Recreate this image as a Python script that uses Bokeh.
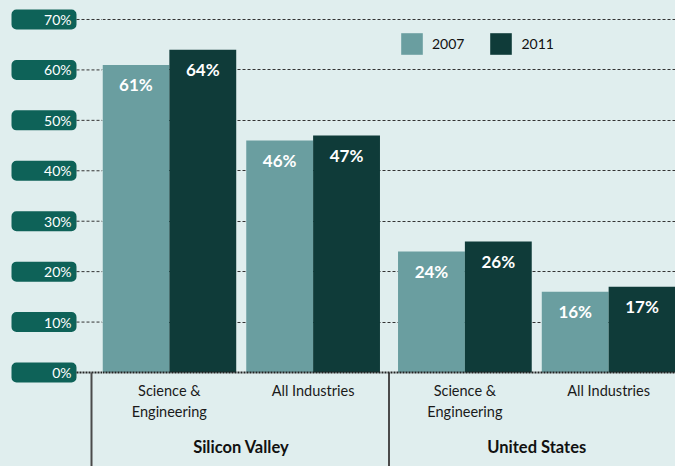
from bokeh.plotting import figure
from bokeh.models import (ColumnDataSource, FactorRange, Range1d, FixedTicker,
                          Span, Legend, LegendItem)
from bokeh.layouts import row
from bokeh.core.properties import value
from bokeh.embed import file_html
from bokeh.resources import INLINE

# ---------------- data ----------------
groups = ["Silicon Valley", "United States"]
industries = ["Science & Engineering", "All Industries"]
industry_labels = ["Science &\nEngineering", "All Industries"]
years = ["2007", "2011"]
share_2007 = [61, 46, 24, 16]   # SV S&E, SV All, US S&E, US All
share_2011 = [64, 47, 26, 17]
tick_values = [0, 10, 20, 30, 40, 50, 60, 70]
tick_labels = ["0%", "10%", "20%", "30%", "40%", "50%", "60%", "70%"]

# ---------------- style ----------------
BG = "#e0eeee"
C2007 = "#6a9ea0"
C2011 = "#0f3b39"
BOX = "#0e6258"
GRID = "#333333"
FONT = "Lato"

H = 466
ZERO_PX = 372          # pixel row of the 0% line (from top of figure)
PX_PER_PCT = 5.043
y_range = Range1d(-(H - ZERO_PX) / PX_PER_PCT, ZERO_PX / PX_PER_PCT)


def px_to_y(px_from_top):
    return (ZERO_PX - px_from_top) / PX_PER_PCT


common = dict(height=H, y_range=y_range, output_backend="svg", toolbar_location=None,
              x_axis_location=None, y_axis_location=None, min_border=0,
              background_fill_color=BG, border_fill_color=BG, outline_line_color=None)

# ---------------- left panel: tick boxes ----------------
LW = 102
left = figure(width=LW, x_range=Range1d(0, LW), **common)
left.grid.visible = False
tick_src = ColumnDataSource(dict(y=tick_values, label=tick_labels))
left.hbar(y="y", left=11, right=76, height=20 / PX_PER_PCT, source=tick_src,
          fill_color=BOX, line_color=None, border_radius=5)
left.text(x=71, y="y", text="label", source=tick_src, text_align="right",
          text_baseline="middle", text_color="white", text_font=value(FONT),
          text_font_size="14px")
left.segment(x0=76, x1=LW, y0=tick_values[1:], y1=tick_values[1:],
             line_color=GRID, line_dash="3 2", line_width=1)
left.segment(x0=[76], x1=[LW], y0=[0], y1=[0], line_color="#222222",
             line_dash="2 1", line_width=2)
left.segment(x0=[91], x1=[91], y0=[0], y1=[y_range.start], line_color="#4a4a4a",
             line_width=2)

# ---------------- right panel: bars ----------------
SUBPAD, GROUPPAD = 0.15, 0.27
pairs = [(g, i) for g in groups for i in industries]
factors = [(g, i, y) for (g, i) in pairs for y in years]
x_range = FactorRange(*factors, factor_padding=0, subgroup_padding=SUBPAD,
                      group_padding=GROUPPAD, range_padding=0)

RW = 573
right = figure(width=RW, x_range=x_range, **common)
right.xgrid.visible = False
right.ygrid.ticker = FixedTicker(ticks=tick_values[1:])
right.ygrid.grid_line_color = GRID
right.ygrid.grid_line_dash = "3 2"
right.ygrid.grid_line_width = 1

renderers = []
for year, vals, color in [("2007", share_2007, C2007), ("2011", share_2011, C2011)]:
    src = ColumnDataSource(dict(x=[(g, i, year) for (g, i) in pairs], top=vals,
                                label=[f"{v}%" for v in vals]))
    r = right.vbar(x="x", top="top", bottom=0, width=1, source=src,
                   fill_color=color, line_color=None)
    right.text(x="x", y="top", text="label", source=src, y_offset=20,
               text_align="center", text_baseline="middle", text_color="white",
               text_font=value(FONT), text_font_style="bold", text_font_size="17px")
    renderers.append((year, r))

right.add_layout(Span(location=0, dimension="width", line_color="#222222",
                      line_dash="2 1", line_width=2))

# separator between the two groups (synthetic coordinate of group boundary)
n_sub = len(industries) * len(years)
sep_x = n_sub + (len(industries) - 1) * SUBPAD + GROUPPAD / 2
right.segment(x0=[sep_x], x1=[sep_x], y0=[0], y1=[y_range.start],
              line_color="#4a4a4a", line_width=2)

ind_src = ColumnDataSource(dict(x=pairs, text=[industry_labels[industries.index(i)]
                                               for (_, i) in pairs]))
right.text(x="x", y=px_to_y(381), text="text", source=ind_src, text_align="center",
           text_baseline="top", text_line_height=1.27, text_color="#1a1a1a",
           text_font=value(FONT), text_font_size="14.5px")

grp_src = ColumnDataSource(dict(x=groups, text=groups))
right.text(x="x", y=px_to_y(436), text="text", source=grp_src, text_align="center",
           text_baseline="top", text_color="#111111", text_font=value(FONT),
           text_font_style="bold", text_font_size="16.5px")

legend = Legend(items=[LegendItem(label=y, renderers=[r]) for y, r in renderers],
                location=(296, H - 57), orientation="horizontal", glyph_width=27,
                glyph_height=27, label_standoff=7, spacing=23, padding=0, margin=0,
                label_height=27, border_line_color=None, background_fill_alpha=0,
                label_text_font=FONT, label_text_font_size="14px",
                label_text_baseline="bottom", label_text_color="#111111")
right.add_layout(legend)

layout = row(left, right, spacing=0)

template = """
{% block preamble %}
<style>body { background: #e0eeee; }</style>
{% endblock %}
"""
try:
    html = file_html(layout, INLINE, title="chart", template=template)
except Exception:
    html = file_html(layout, INLINE, title="chart")
open("out.html", "w").write(html)
